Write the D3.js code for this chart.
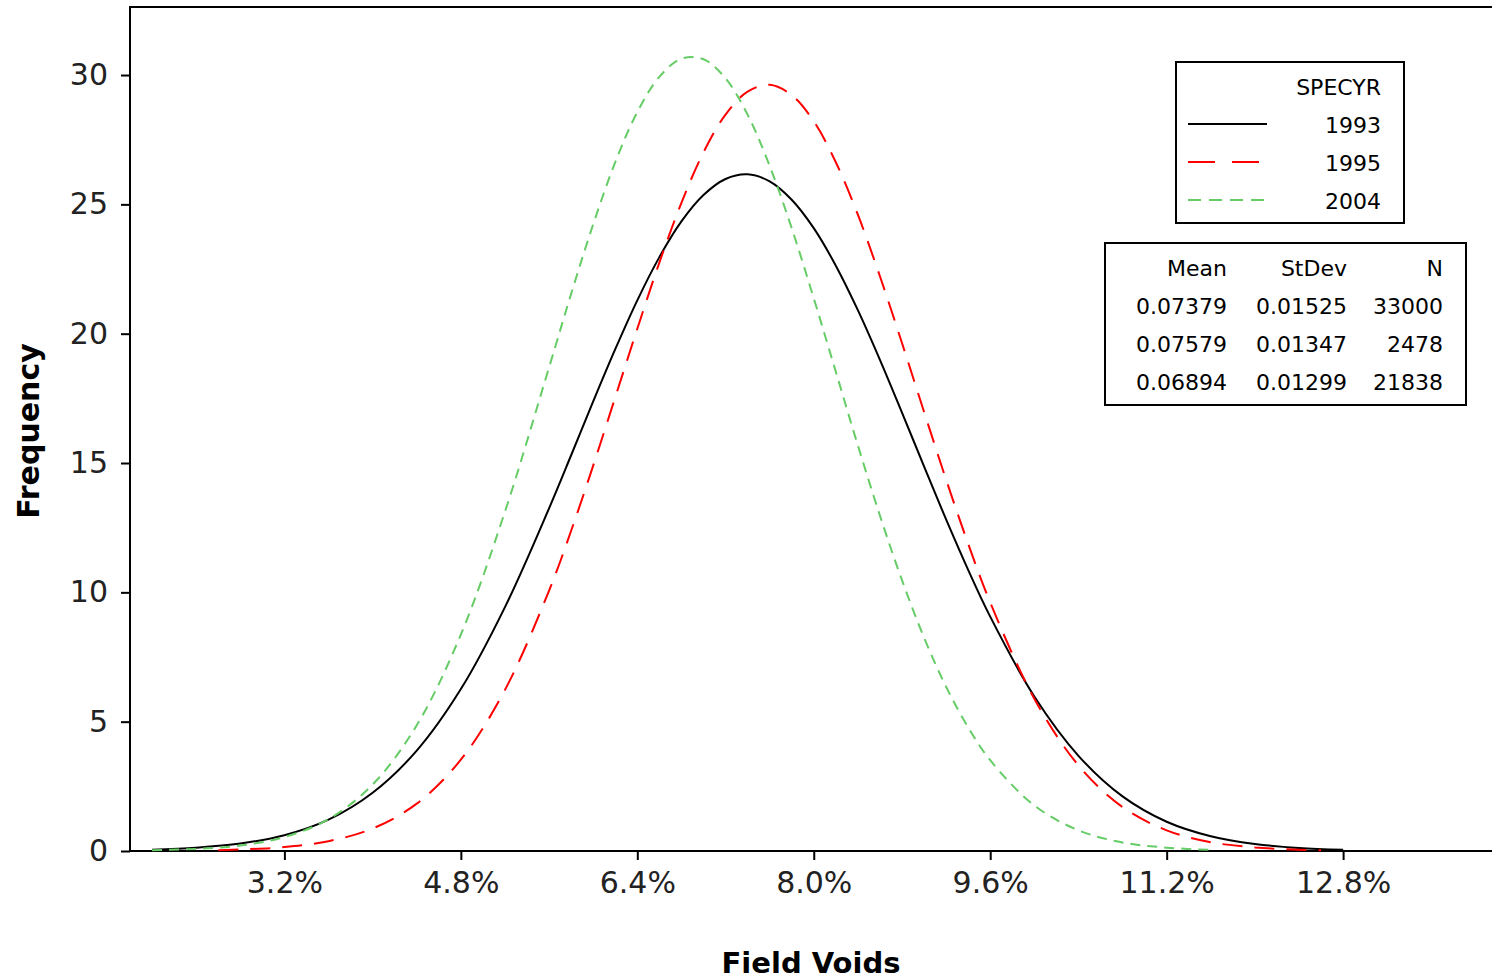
<!DOCTYPE html>
<html>
<head>
<meta charset="utf-8">
<script src="https://cdn.jsdelivr.net/npm/d3@7"></script>
<style>
  body { margin: 0; background: #fff; }
  svg { display: block; font-family: "DejaVu Sans", Verdana, sans-serif; }
</style>
</head>
<body>
<div id="chart"></div>
<script>
// values (x in %, y = frequency)
var x1993 = [2.0, 2.4, 2.8, 3.2, 3.6, 4.0, 4.4, 4.8, 5.2, 5.6, 5.8, 6.0, 6.2, 6.4, 6.6, 6.8, 7.0, 7.2, 7.4, 7.6, 7.8, 8.0, 8.2, 8.4, 8.6, 8.8, 9.0, 9.2, 9.4, 9.6, 10.0, 10.4, 10.8, 11.2, 11.6, 12.0, 12.4, 12.8];
var y1993 = [0.05, 0.13, 0.29, 0.61, 1.21, 2.25, 3.88, 6.26, 9.43, 13.25, 15.30, 17.38, 19.40, 21.29, 22.96, 24.34, 25.36, 25.98, 26.16, 25.89, 25.18, 24.08, 22.63, 20.91, 18.99, 16.95, 14.87, 12.82, 10.87, 9.06, 5.97, 3.68, 2.11, 1.13, 0.57, 0.27, 0.12, 0.05];

var x1995 = [2.6, 2.8, 3.2, 3.6, 4.0, 4.4, 4.8, 5.2, 5.6, 5.8, 6.0, 6.2, 6.4, 6.6, 6.8, 7.0, 7.2, 7.4, 7.6, 7.8, 8.0, 8.2, 8.4, 8.6, 8.8, 9.0, 9.2, 9.4, 9.6, 10.0, 10.4, 10.8, 11.2, 11.6, 12.0, 12.4, 12.6];
var y1995 = [0.03, 0.06, 0.15, 0.38, 0.87, 1.83, 3.53, 6.23, 10.07, 12.38, 14.90, 17.54, 20.19, 22.75, 25.06, 27.01, 28.47, 29.36, 29.62, 29.22, 28.21, 26.63, 24.60, 22.22, 19.64, 16.98, 14.36, 11.88, 9.61, 5.89, 3.31, 1.70, 0.80, 0.34, 0.14, 0.05, 0.03];

var x2004 = [2.0, 2.4, 2.8, 3.2, 3.6, 4.0, 4.4, 4.8, 5.2, 5.6, 5.8, 6.0, 6.2, 6.4, 6.6, 6.8, 7.0, 7.2, 7.4, 7.6, 7.8, 8.0, 8.2, 8.4, 8.6, 8.8, 9.0, 9.2, 9.4, 9.6, 10.0, 10.4, 10.8, 11.2, 11.6];
var y2004 = [0.03, 0.08, 0.21, 0.54, 1.23, 2.57, 4.86, 8.37, 13.12, 18.70, 21.54, 24.23, 26.63, 28.57, 29.93, 30.63, 30.61, 29.87, 28.47, 26.49, 24.08, 21.37, 18.53, 15.68, 12.97, 10.47, 8.25, 6.35, 4.78, 3.51, 1.76, 0.80, 0.33, 0.13, 0.04];

var xTicks = [3.2, 4.8, 6.4, 8.0, 9.6, 11.2, 12.8];
var yTicks = [0, 5, 10, 15, 20, 25, 30];

var seriesNames = ["1993", "1995", "2004"];
var statHeaders = ["Mean", "StDev", "N"];
var statMeans = ["0.07379", "0.07579", "0.06894"];
var statSd = ["0.01525", "0.01347", "0.01299"];
var statN = ["33000", "2478", "21838"];

var width = 1492, height = 979;
var plotLeft = 130, plotTop = 7, plotBottom = 851;

var svg = d3.select("#chart").append("svg")
    .attr("width", width)
    .attr("height", height);

var x = d3.scaleLinear().domain([1.8, 14.15]).range([plotLeft, width]);
var y = d3.scaleLinear().domain([0, 32.63]).range([plotBottom, plotTop]);

// frame
svg.append("path")
    .attr("d", "M" + (width + 5) + "," + plotTop + "H" + plotLeft + "V" + plotBottom + "H" + (width + 5))
    .attr("fill", "none")
    .attr("stroke", "#000")
    .attr("stroke-width", 2);

// axes
var xAxis = svg.append("g")
    .attr("transform", "translate(0," + plotBottom + ")")
    .call(d3.axisBottom(x).tickValues(xTicks).tickSize(9).tickPadding(12)
        .tickFormat(function (d) { return d3.format(".1f")(d) + "%"; }));
xAxis.select(".domain").remove();
xAxis.selectAll("line").attr("stroke-width", 2);
xAxis.selectAll("text").attr("font-size", 30).attr("font-family", "DejaVu Sans").attr("fill", "#222");

var yAxis = svg.append("g")
    .attr("transform", "translate(" + plotLeft + ",0)")
    .call(d3.axisLeft(y).tickValues(yTicks).tickSize(9).tickPadding(13));
yAxis.select(".domain").remove();
yAxis.selectAll("line").attr("stroke-width", 2);
yAxis.selectAll("text").attr("font-size", 30).attr("font-family", "DejaVu Sans").attr("fill", "#222");

// axis titles
svg.append("text")
    .attr("x", 811).attr("y", 973)
    .attr("text-anchor", "middle")
    .attr("font-weight", "bold")
    .attr("font-size", 29)
    .text("Field Voids");

svg.append("text")
    .attr("transform", "translate(39,431) rotate(-90)")
    .attr("text-anchor", "middle")
    .attr("font-weight", "bold")
    .attr("font-size", 30)
    .text("Frequency");

// curves
var line = d3.line()
    .x(function (d) { return x(d[0]); })
    .y(function (d) { return y(d[1]); })
    .curve(d3.curveCatmullRom);

var series = [
    { xs: x1993, ys: y1993, color: "#000", dash: null },
    { xs: x1995, ys: y1995, color: "#ff0000", dash: "20,12" },
    { xs: x2004, ys: y2004, color: "#66cc66", dash: "10,7" }
];

series.forEach(function (s) {
    svg.append("path")
        .datum(d3.zip(s.xs, s.ys))
        .attr("d", line)
        .attr("fill", "none")
        .attr("stroke", s.color)
        .attr("stroke-width", 2)
        .attr("stroke-dasharray", s.dash);
});

// legend box
var leg = svg.append("g");
leg.append("rect")
    .attr("x", 1176).attr("y", 62).attr("width", 228).attr("height", 161)
    .attr("fill", "#fff").attr("stroke", "#000").attr("stroke-width", 2);
leg.append("text")
    .attr("x", 1381).attr("y", 95)
    .attr("text-anchor", "end").attr("font-size", 22)
    .text("SPECYR");
var legDash = [null, "27,17", "13,8"];
seriesNames.forEach(function (name, i) {
    var yy = 124 + i * 38;
    leg.append("line")
        .attr("x1", 1188).attr("x2", 1267).attr("y1", yy).attr("y2", yy)
        .attr("stroke", series[i].color).attr("stroke-width", 2)
        .attr("stroke-dasharray", legDash[i]);
    leg.append("text")
        .attr("x", 1381).attr("y", yy + 9)
        .attr("text-anchor", "end").attr("font-size", 22)
        .text(name);
});

// stats box
var st = svg.append("g");
st.append("rect")
    .attr("x", 1105).attr("y", 243).attr("width", 361).attr("height", 162)
    .attr("fill", "#fff").attr("stroke", "#000").attr("stroke-width", 2);
var colRight = [1227, 1347, 1443];
var rows = [statHeaders].concat(d3.range(3).map(function (i) {
    return [statMeans[i], statSd[i], statN[i]];
}));
rows.forEach(function (r, ri) {
    r.forEach(function (txt, ci) {
        st.append("text")
            .attr("x", colRight[ci]).attr("y", 276 + ri * 38)
            .attr("text-anchor", "end").attr("font-size", 22)
            .text(txt);
    });
});
</script>
</body>
</html>
